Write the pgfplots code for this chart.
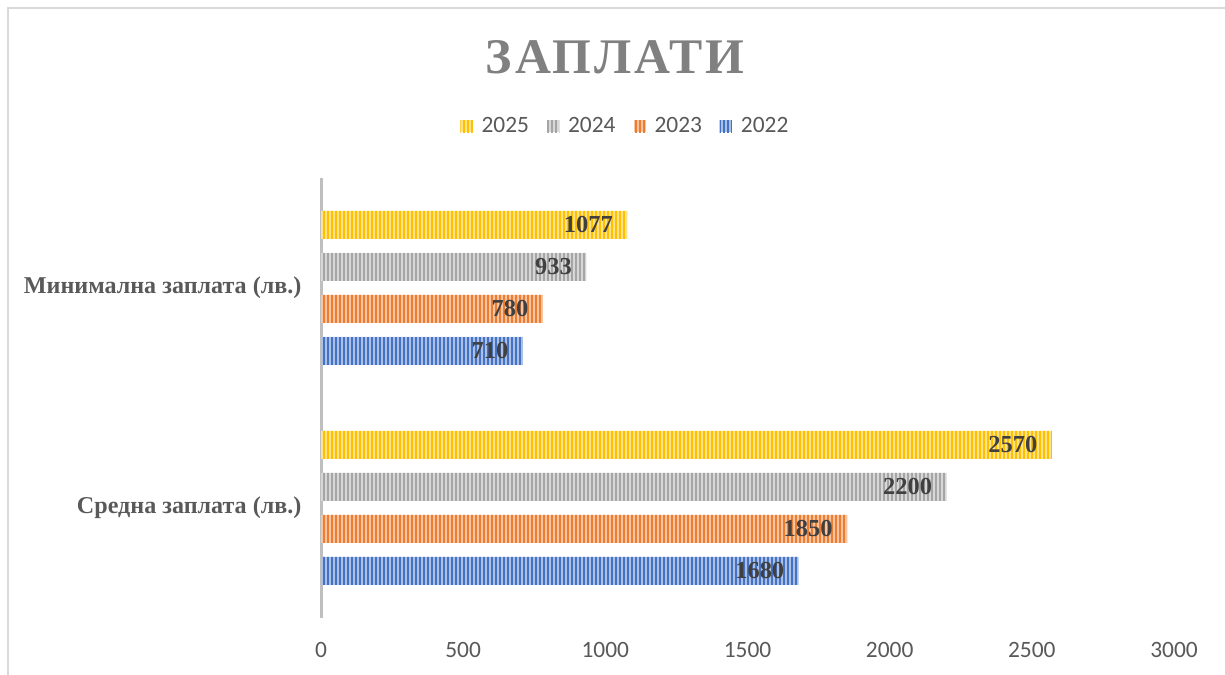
\documentclass[border=0pt]{standalone}
\usepackage{fontspec}
\setmainfont{Liberation Serif}
\newfontfamily\calibri{Carlito}
\newfontfamily\titlefont[LetterSpace=6]{Liberation Serif}
\usepackage{pgfplots}
\pgfplotsset{compat=1.18}
\usetikzlibrary{patterns.meta}
\definecolor{cY}{HTML}{FFC000}
\definecolor{cG}{HTML}{A5A5A5}
\definecolor{cO}{HTML}{ED7D31}
\definecolor{cB}{HTML}{4472C4}
\definecolor{frame}{HTML}{D9D9D9}
\definecolor{titlegray}{HTML}{808080}
\definecolor{catgray}{HTML}{595959}
\definecolor{valgray}{HTML}{404040}
\definecolor{axisgray}{HTML}{BFBFBF}
\pgfplotsset{
  mybar/.style={fill=#1!45!white, draw=none,
    postaction={pattern={Lines[angle=90,distance=4bp,line width=2.3bp]}, pattern color=#1},
    legend image code/.code={\fill[fill=#1!45!white] (0bp,-6bp) rectangle (12bp,6bp);
      \fill[pattern={Lines[angle=90,distance=4bp,line width=2.3bp]}, pattern color=#1] (0bp,-6bp) rectangle (12bp,6bp);}
  }
}
\begin{document}
\begin{tikzpicture}[x=1bp,y=1bp]
\useasboundingbox (0,0) rectangle (1225,675);
\draw[color=frame, line width=2.5bp] (8,0) -- (8,667) -- (1225,667);
\node[font=\titlefont\bfseries\fontsize{50}{60}\selectfont, text=titlegray] at (615,618) {ЗАПЛАТИ};
\begin{axis}[
  at={(321bp,57bp)}, anchor=south west, width=853bp, height=440bp, scale only axis,
  xbar, bar width=28bp,
  xmin=0, xmax=3000, ymin=-0.5, ymax=1.5,
  xtick={0,500,...,3000}, ytick={0,1},
  yticklabels={Средна заплата (лв.), Минимална заплата (лв.)},
  /pgf/number format/1000 sep={},
  /pgf/number format/assume math mode=true,
  separate axis lines,
  axis x line*=bottom, axis y line*=left,
  x axis line style={draw=none},
  y axis line style={draw=axisgray, line width=3bp},
  major tick length=0pt,
  xticklabel style={font=\calibri\fontsize{23.5}{27}\selectfont, text=catgray, yshift=-21bp},
  yticklabel style={font=\bfseries\fontsize{24.2}{28}\selectfont, text=catgray, xshift=-16bp},
  nodes near coords, point meta=x,
  every node near coord/.append style={anchor=east, font=\bfseries\fontsize{24.5}{28}\selectfont, text=valgray, xshift=-11bp},
  legend columns=4,
  legend style={at={(0.357,1.118)}, anchor=center, draw=none, fill=none,
    font=\calibri\fontsize{23.5}{27}\selectfont, text=catgray,
    /tikz/every odd column/.append style={column sep=7bp},
    /tikz/every even column/.append style={column sep=16bp}},
]
\addplot[mybar=cY, bar shift=63bp] coordinates {(2570,0) (1077,1)};
\addlegendentry{2025}
\addplot[mybar=cG, bar shift=21bp] coordinates {(2200,0) (933,1)};
\addlegendentry{2024}
\addplot[mybar=cO, bar shift=-21bp] coordinates {(1850,0) (780,1)};
\addlegendentry{2023}
\addplot[mybar=cB, bar shift=-63bp] coordinates {(1680,0) (710,1)};
\addlegendentry{2022}
\end{axis}
\end{tikzpicture}
\end{document}
